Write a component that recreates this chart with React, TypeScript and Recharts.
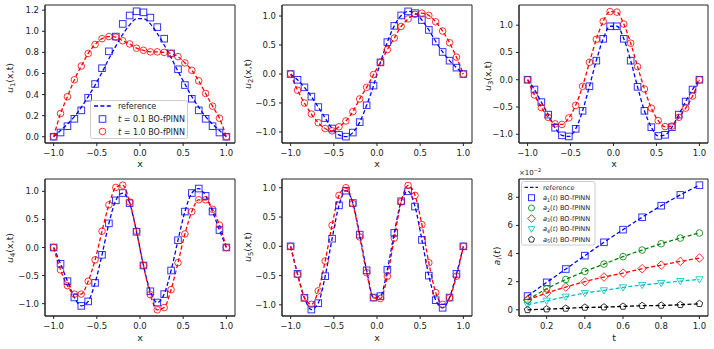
import React from 'react';
import { ComposedChart, Line, XAxis, YAxis, ReferenceArea } from 'recharts';

// spatial grid shared by the five mode plots
const xs = [-1, -0.92, -0.84, -0.76, -0.68, -0.6, -0.52, -0.44, -0.36, -0.28, -0.2, -0.12, -0.04,
  0.04, 0.12, 0.2, 0.28, 0.36, 0.44, 0.52, 0.6, 0.68, 0.76, 0.84, 0.92, 1];

const u1Ref01 = [0, 0.06, 0.12, 0.19, 0.28, 0.38, 0.49, 0.61, 0.74, 0.86, 0.97, 1.06, 1.12, 1.12, 1.07, 0.98, 0.87, 0.75, 0.62, 0.5, 0.38, 0.28, 0.19, 0.12, 0.06, 0];
const u1Fit01 = [0, 0.04, 0.1, 0.17, 0.25, 0.37, 0.5, 0.65, 0.81, 0.95, 1.07, 1.15, 1.19, 1.18, 1.13, 1.04, 0.93, 0.79, 0.64, 0.49, 0.36, 0.25, 0.17, 0.1, 0.04, 0];
const u1Fit10 = [0, 0.22, 0.38, 0.54, 0.67, 0.79, 0.875, 0.93, 0.95, 0.945, 0.91, 0.88, 0.84, 0.82, 0.805, 0.805, 0.8, 0.79, 0.76, 0.7, 0.63, 0.53, 0.41, 0.29, 0.175, 0];

const u2Fit01 = [0, -0.1, -0.23, -0.39, -0.57, -0.76, -0.94, -1.05, -1.08, -1.01, -0.83, -0.54, -0.2, 0.2, 0.55, 0.83, 1.01, 1.08, 1.05, 0.93, 0.76, 0.56, 0.38, 0.23, 0.11, 0];
const u2Fit10 = [0, -0.28, -0.5, -0.69, -0.84, -0.94, -0.98, -0.91, -0.81, -0.65, -0.43, -0.23, -0.01, 0.2, 0.42, 0.62, 0.82, 0.95, 1.03, 1.05, 1.01, 0.9, 0.74, 0.54, 0.29, 0];

const u3Fit01 = [0, -0.18, -0.41, -0.64, -0.88, -1.02, -1.04, -0.9, -0.57, -0.12, 0.35, 0.75, 0.98, 0.98, 0.75, 0.35, -0.13, -0.57, -0.87, -1.03, -1.01, -0.87, -0.64, -0.4, -0.18, 0];
const u3Fit10 = [0, -0.28, -0.51, -0.69, -0.81, -0.82, -0.7, -0.47, -0.12, 0.32, 0.74, 1.07, 1.25, 1.24, 1.02, 0.67, 0.24, -0.17, -0.52, -0.75, -0.86, -0.85, -0.69, -0.52, -0.3, 0];

const u4Fit01 = [0, -0.29, -0.6, -0.89, -1.04, -0.96, -0.63, -0.13, 0.43, 0.84, 0.97, 0.79, 0.28, -0.32, -0.78, -0.98, -0.83, -0.41, 0.13, 0.64, 0.97, 1.05, 0.92, 0.64, 0.31, 0];
const u4Fit10 = [0, -0.4, -0.68, -0.83, -0.83, -0.6, -0.22, 0.29, 0.76, 1.07, 1.11, 0.81, 0.29, -0.32, -0.84, -1.11, -1.07, -0.75, -0.27, 0.24, 0.64, 0.85, 0.85, 0.68, 0.4, 0];

const u5Fit01 = [0, -0.47, -0.88, -1.08, -0.97, -0.51, 0.13, 0.7, 0.95, 0.74, 0.2, -0.41, -0.875, -0.85, -0.4, 0.23, 0.77, 0.94, 0.68, 0.11, -0.5, -0.92, -1.05, -0.875, -0.47, 0];
const u5Fit10 = [0, -0.48, -0.88, -0.99, -0.76, -0.25, 0.36, 0.87, 1.0, 0.73, 0.16, -0.45, -0.88, -0.89, -0.51, 0.14, 0.76, 1.04, 0.87, 0.37, -0.28, -0.79, -0.99, -0.88, -0.51, 0];

// time coefficients (units of 1e-2)
const ts = [0.1, 0.2, 0.3, 0.4, 0.5, 0.6, 0.7, 0.8, 0.9, 1.0];
const a1 = [0.98, 1.95, 2.9, 3.85, 4.8, 5.7, 6.58, 7.4, 8.17, 8.86];
const a2 = [0.7, 1.5, 2.16, 2.73, 3.25, 3.78, 4.25, 4.7, 5.1, 5.46];
const a3 = [0.7, 1.19, 1.62, 2.0, 2.33, 2.61, 2.92, 3.18, 3.44, 3.68];
const a4 = [0.36, 0.64, 0.93, 1.19, 1.38, 1.59, 1.76, 1.9, 2.04, 2.16];
const a5 = [0.0, 0.05, 0.1, 0.17, 0.19, 0.24, 0.29, 0.31, 0.36, 0.43];

const uTicksX = [-1, -0.5, 0, 0.5, 1];
const uTicksY = [-1, -0.5, 0, 0.5, 1];
const u1TicksY = [0, 0.2, 0.4, 0.6, 0.8, 1.0, 1.2];
const aTicksX = [0.2, 0.4, 0.6, 0.8, 1.0];
const aTicksY = [0, 2, 4, 6, 8];

const FONT = '"DejaVu Sans", Verdana, sans-serif';
const BLUE = '#0000ff';
const RED = '#ff0000';
const GREEN = '#008000';
const CYAN = '#00bfbf';
const BLACK = '#000000';
const AXIS = '#222';

const fmt1 = (v: number) => (v < -1e-9 ? '\u2212' : '') + Math.abs(v).toFixed(1);
const fmt0 = (v: number) => String(v);

type Kind = 'square' | 'circle' | 'diamond' | 'tri' | 'pent';

function Mark({ cx, cy, kind, color, size = 6.6 }: any) {
  if (cx == null || cy == null || isNaN(cx) || isNaN(cy)) return null;
  const h = size / 2;
  const st = { fill: 'none', stroke: color, strokeWidth: 1, strokeOpacity: 0.8 };
  if (kind === 'square') return <rect x={cx - h} y={cy - h} width={size} height={size} {...st} />;
  if (kind === 'circle') return <circle cx={cx} cy={cy} r={h} {...st} />;
  if (kind === 'diamond') {
    const d = h * 1.3;
    return <polygon points={`${cx},${cy - d} ${cx + d},${cy} ${cx},${cy + d} ${cx - d},${cy}`} {...st} />;
  }
  if (kind === 'tri') {
    return <polygon points={`${cx - h * 1.1},${cy - h * 0.8} ${cx + h * 1.1},${cy - h * 0.8} ${cx},${cy + h * 1.1}`} {...st} />;
  }
  const pts = [0, 1, 2, 3, 4].map(i => {
    const ang = -Math.PI / 2 + (i * 2 * Math.PI) / 5;
    return `${cx + h * 1.05 * Math.cos(ang)},${cy + h * 1.05 * Math.sin(ang)}`;
  });
  return <polygon points={pts.join(' ')} {...st} />;
}

type Series = { key: string; color: string; kind?: Kind };

interface PanelProps {
  left: number; top: number; width: number; height: number;
  data: any[];
  xDomain: [number, number]; xTicks: number[]; xFmt: (v: number) => string;
  yDomain: [number, number]; yTicks: number[]; yFmt: (v: number) => string;
  lines: Series[]; marks: Series[];
}

const tickStyle = { fontSize: 8.5, fill: AXIS, fontFamily: FONT };

function Panel(p: PanelProps) {
  const YW = 40, XH = 22, PAD = 3;
  return (
    <div style={{ position: 'absolute', left: p.left - YW, top: p.top - PAD }}>
      <ComposedChart width={YW + p.width + PAD} height={PAD + p.height + XH} data={p.data}
        margin={{ top: PAD, right: PAD, bottom: 0, left: 0 }}>
        <XAxis xAxisId="b" type="number" dataKey="x" domain={p.xDomain} ticks={p.xTicks} interval={0}
          allowDataOverflow height={XH} tickSize={3} tickMargin={4} tickFormatter={p.xFmt}
          tick={tickStyle} axisLine={{ stroke: AXIS }} tickLine={{ stroke: AXIS }} />
        <YAxis yAxisId="l" type="number" domain={p.yDomain} ticks={p.yTicks} interval={0} allowDataOverflow
          width={YW} tickSize={3} tickMargin={3} tickFormatter={p.yFmt}
          tick={tickStyle} axisLine={{ stroke: AXIS }} tickLine={{ stroke: AXIS }} />
        {/* frame: top and right spines */}
        <ReferenceArea xAxisId="b" yAxisId="l" x1={p.xDomain[0]} x2={p.xDomain[1]} y1={p.yDomain[0]} y2={p.yDomain[1]}
          fill="none" stroke={AXIS} strokeWidth={1} ifOverflow="visible" />
        {p.lines.map(s => (
          <Line key={'l' + s.key} xAxisId="b" yAxisId="l" dataKey={s.key} type="monotone" stroke={s.color}
            strokeWidth={1.3} strokeDasharray="4 2.4" dot={false} activeDot={false} isAnimationActive={false} />
        ))}
        {p.marks.map(s => (
          <Line key={'m' + s.key} xAxisId="b" yAxisId="l" dataKey={s.key} stroke="none" activeDot={false}
            isAnimationActive={false}
            dot={(d: any) => <Mark key={s.key + d.index} cx={d.cx} cy={d.cy} kind={s.kind} color={s.color} />} />
        ))}
      </ComposedChart>
    </div>
  );
}

const uRows = (ref01: number[], fit01: number[], ref10: number[], fit10: number[]) =>
  xs.map((x, i) => ({ x, ref01: ref01[i], fit01: fit01[i], ref10: ref10[i], fit10: fit10[i] }));

const uLines: Series[] = [{ key: 'ref01', color: BLUE }, { key: 'ref10', color: RED }];
const uMarks: Series[] = [{ key: 'fit01', color: BLUE, kind: 'square' }, { key: 'fit10', color: RED, kind: 'circle' }];

const aRows = ts.map((x, i) => ({ x, a1: a1[i], a2: a2[i], a3: a3[i], a4: a4[i], a5: a5[i] }));
const aLines: Series[] = [
  { key: 'a1', color: BLUE }, { key: 'a2', color: GREEN }, { key: 'a3', color: RED },
  { key: 'a4', color: CYAN }, { key: 'a5', color: BLACK },
];
const aMarks: Series[] = [
  { key: 'a1', color: BLUE, kind: 'square' }, { key: 'a2', color: GREEN, kind: 'circle' },
  { key: 'a3', color: RED, kind: 'diamond' }, { key: 'a4', color: CYAN, kind: 'tri' },
  { key: 'a5', color: BLACK, kind: 'pent' },
];

const R1 = 5, R2 = 179, H1 = 138, H2 = 137;
const C1 = 45, C2 = 282, C3 = 519, W = 190;
const XD: [number, number] = [-1.1, 1.1];

function YLab({ x, y, sub }: { x: number; y: number; sub: string }) {
  return (
    <text transform={`translate(${x},${y}) rotate(-90)`} textAnchor="middle" fontSize={9.5} fontFamily={FONT} fill={AXIS}>
      <tspan fontStyle="italic">u</tspan>
      <tspan fontSize={6.8} dy={2}>{sub}</tspan>
      <tspan dy={-2}>(x,t)</tspan>
    </text>
  );
}

function LegendU() {
  const t = (y: number, val: string) => (
    <text x={118} y={y + 3} fontSize={8} fontFamily={FONT} fill={AXIS}>
      <tspan fontStyle="italic">t</tspan> = {val} BO-fPINN
    </text>
  );
  return (
    <g>
      <rect x={90.5} y={100.5} width={97} height={38} rx={2} fill="#fff" fillOpacity={0.8} stroke="#ccc" />
      <line x1={94} y1={106} x2={111} y2={106} stroke={BLUE} strokeWidth={1.3} strokeDasharray="4 2.4" />
      <text x={118} y={109} fontSize={8} fontFamily={FONT} fill={AXIS}>reference</text>
      <Mark cx={102.5} cy={119} kind="square" color={BLUE} />
      {t(119, '0.1')}
      <Mark cx={102.5} cy={131.5} kind="circle" color={RED} />
      {t(131.5, '1.0')}
    </g>
  );
}

function LegendA() {
  const rows = [197.7, 208, 218.5, 229, 239.5];
  const subs = ['1', '2', '3', '4', '5'];
  return (
    <g>
      <rect x={521.5} y={181.5} width={73.5} height={63.5} rx={2} fill="#fff" fillOpacity={0.8} stroke="#ccc" />
      <line x1={524.5} y1={187.3} x2={538} y2={187.3} stroke={BLUE} strokeWidth={1.2} strokeDasharray="3.5 2" />
      <text x={543} y={189.6} fontSize={6.6} fontFamily={FONT} fill={AXIS}>reference</text>
      {rows.map((y, i) => (
        <g key={i}>
          <Mark cx={531.5} cy={y} kind={aMarks[i].kind} color={aMarks[i].color} size={6} />
          <text x={543} y={y + 2.3} fontSize={6.6} fontFamily={FONT} fill={AXIS}>
            <tspan fontStyle="italic">a</tspan>
            <tspan fontSize={4.8} dy={1.5}>{subs[i]}</tspan>
            <tspan dy={-1.5}>(</tspan><tspan fontStyle="italic">t</tspan><tspan>) BO-fPINN</tspan>
          </text>
        </g>
      ))}
    </g>
  );
}

export default function App() {
  return (
    <div style={{ position: 'absolute', left: 0, top: 0, width: 714, height: 349, background: '#fff', fontFamily: FONT }}>
      <Panel left={C1} top={R1} width={W} height={H1} data={uRows(u1Ref01, u1Fit01, u1Fit10, u1Fit10)}
        xDomain={XD} xTicks={uTicksX} xFmt={fmt1} yDomain={[-0.0595, 1.2495]} yTicks={u1TicksY} yFmt={fmt1}
        lines={uLines} marks={uMarks} />
      <Panel left={C2} top={R1} width={W} height={H1} data={uRows(u2Fit01, u2Fit01, u2Fit10, u2Fit10)}
        xDomain={XD} xTicks={uTicksX} xFmt={fmt1} yDomain={[-1.19, 1.19]} yTicks={uTicksY} yFmt={fmt1}
        lines={uLines} marks={uMarks} />
      <Panel left={C3} top={R1} width={W - 1} height={H1} data={uRows(u3Fit01, u3Fit01, u3Fit10, u3Fit10)}
        xDomain={XD} xTicks={uTicksX} xFmt={fmt1} yDomain={[-1.16, 1.37]} yTicks={uTicksY} yFmt={fmt1}
        lines={uLines} marks={uMarks} />
      <Panel left={C1} top={R2} width={W} height={H2} data={uRows(u4Fit01, u4Fit01, u4Fit10, u4Fit10)}
        xDomain={XD} xTicks={uTicksX} xFmt={fmt1} yDomain={[-1.22, 1.22]} yTicks={uTicksY} yFmt={fmt1}
        lines={uLines} marks={uMarks} />
      <Panel left={C2} top={R2} width={W} height={H2} data={uRows(u5Fit01, u5Fit01, u5Fit10, u5Fit10)}
        xDomain={XD} xTicks={uTicksX} xFmt={fmt1} yDomain={[-1.19, 1.15]} yTicks={uTicksY} yFmt={fmt1}
        lines={uLines} marks={uMarks} />
      <Panel left={C3} top={R2} width={W - 1} height={H2} data={aRows}
        xDomain={[0.055, 1.045]} xTicks={aTicksX} xFmt={(v) => v.toFixed(1)} yDomain={[-0.44, 9.3]} yTicks={aTicksY} yFmt={fmt0}
        lines={aLines} marks={aMarks} />
      <svg width={714} height={349} style={{ position: 'absolute', left: 0, top: 0, pointerEvents: 'none' }}>
        <YLab x={13} y={78} sub="1" />
        <YLab x={250.5} y={74} sub="2" />
        <YLab x={490.5} y={76} sub="3" />
        <YLab x={13} y={248} sub="4" />
        <YLab x={250.5} y={247} sub="5" />
        <text transform="translate(500,256) rotate(-90)" textAnchor="middle" fontSize={9.5} fontFamily={FONT} fill={AXIS}>
          <tspan fontStyle="italic">a</tspan>
          <tspan fontSize={6.8} fontStyle="italic" dy={2}>i</tspan>
          <tspan dy={-2}>(</tspan><tspan fontStyle="italic">t</tspan><tspan>)</tspan>
        </text>
        {[C1 + W / 2, C2 + W / 2, C3 + W / 2].map((cx, i) => (
          <text key={'x1' + i} x={cx} y={167} textAnchor="middle" fontSize={9.5} fontFamily={FONT} fill={AXIS}>x</text>
        ))}
        {[C1 + W / 2, C2 + W / 2].map((cx, i) => (
          <text key={'x2' + i} x={cx} y={341} textAnchor="middle" fontSize={9.5} fontFamily={FONT} fill={AXIS}>x</text>
        ))}
        <text x={C3 + W / 2} y={341} textAnchor="middle" fontSize={9.5} fontFamily={FONT} fill={AXIS}>t</text>
        <text x={519} y={175} fontSize={7} fontFamily={FONT} fill={AXIS}>
          ×10<tspan fontSize={5} dy={-3}>−2</tspan>
        </text>
        <LegendU />
        <LegendA />
      </svg>
    </div>
  );
}
